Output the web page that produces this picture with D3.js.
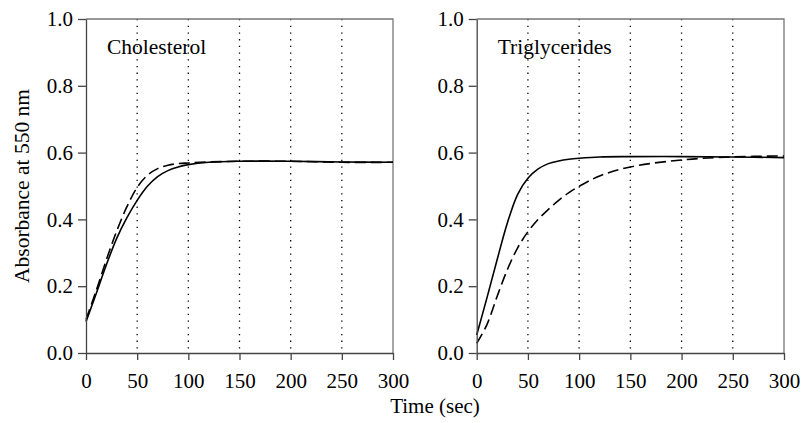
<!DOCTYPE html>
<meta charset="utf-8">
<style>
body { margin: 0; background: #fff; }
text { font-family: "Liberation Serif", "Times New Roman", serif; fill: #000; }
.axis path, .axis line { stroke: #444; stroke-width: 1.3px; }
.axis text { font-size: 21px; }
.frame { fill: none; stroke: #777; stroke-width: 1.3px; }
.grid { stroke: #000; stroke-width: 1.3px; stroke-dasharray: 1.3,5.4; }
.solid { fill: none; stroke: #000; stroke-width: 1.6px; }
.dashed { fill: none; stroke: #000; stroke-width: 1.6px; stroke-dasharray: 11,5; }
</style>
<svg width="804" height="423"></svg>
<script src="https://d3js.org/d3.v7.min.js"></script>
<script>

var time = [0, 10, 20, 30, 40, 50, 60, 70, 80, 90, 100, 120, 150, 200, 250, 300];

var cholSolid  = [0.094, 0.178, 0.265, 0.343, 0.405, 0.457, 0.499, 0.528, 0.546, 0.557, 0.564, 0.571, 0.574, 0.574, 0.572, 0.571];
var cholDashed = [0.100, 0.187, 0.280, 0.365, 0.438, 0.496, 0.532, 0.552, 0.562, 0.567, 0.569, 0.572, 0.574, 0.574, 0.571, 0.571];

var trigSolid  = [0.054, 0.165, 0.280, 0.390, 0.475, 0.523, 0.551, 0.567, 0.575, 0.580, 0.583, 0.587, 0.588, 0.588, 0.587, 0.585];
var trigDashed = [0.029, 0.085, 0.170, 0.250, 0.315, 0.363, 0.400, 0.430, 0.457, 0.480, 0.499, 0.530, 0.557, 0.578, 0.587, 0.590];

var xTicks = [0, 50, 100, 150, 200, 250, 300];
var yTicks = [0, 0.2, 0.4, 0.6, 0.8, 1.0];
var gridTicks = [50, 100, 150, 200, 250];

var panels = [
  {name: "Cholesterol", solid: cholSolid, dashed: cholDashed, left: 86, right: 393},
  {name: "Triglycerides", solid: trigSolid, dashed: trigDashed, left: 476.7, right: 784}
];

var plotTop = 19, plotBottom = 353;
var svg = d3.select("svg");

var y = d3.scaleLinear().domain([0, 1]).range([plotBottom, plotTop]);

panels.forEach(function(p) {
  var x = d3.scaleLinear().domain([0, 300]).range([p.left, p.right]);
  var g = svg.append("g");

  // dotted vertical grid
  g.selectAll(".grid").data(gridTicks).enter().append("line")
    .attr("class", "grid")
    .attr("x1", function(d) { return x(d); }).attr("x2", function(d) { return x(d); })
    .attr("y1", plotTop).attr("y2", plotBottom);

  // frame top + right
  g.append("path").attr("class", "frame")
    .attr("d", "M" + p.left + "," + plotTop + "H" + p.right + "V" + plotBottom);

  var line = d3.line()
    .x(function(d, i) { return x(time[i]); })
    .y(function(d) { return y(d); })
    .curve(d3.curveCatmullRom.alpha(0.5));

  g.append("path").datum(p.dashed).attr("class", "dashed").attr("d", line);
  g.append("path").datum(p.solid).attr("class", "solid").attr("d", line);

  g.append("g").attr("class", "axis")
    .attr("transform", "translate(0," + plotBottom + ")")
    .call(d3.axisBottom(x).tickValues(xTicks).tickSize(7).tickSizeOuter(0).tickPadding(13)
      .tickFormat(d3.format("d")));

  g.append("g").attr("class", "axis")
    .attr("transform", "translate(" + p.left + ",0)")
    .call(d3.axisLeft(y).tickValues(yTicks).tickSize(8).tickSizeOuter(0).tickPadding(5)
      .tickFormat(d3.format(".1f")));

  g.selectAll(".axis text").attr("fill", "#000");

  g.append("text")
    .attr("x", p.left + 21).attr("y", 54)
    .style("font-size", "21.5px")
    .text(p.name);
});

svg.append("text")
  .attr("transform", "translate(29,186) rotate(-90)")
  .attr("text-anchor", "middle")
  .style("font-size", "21.5px")
  .text("Absorbance at 550 nm");

svg.append("text")
  .attr("x", 435).attr("y", 413)
  .attr("text-anchor", "middle")
  .style("font-size", "21px")
  .text("Time (sec)");

</script>
